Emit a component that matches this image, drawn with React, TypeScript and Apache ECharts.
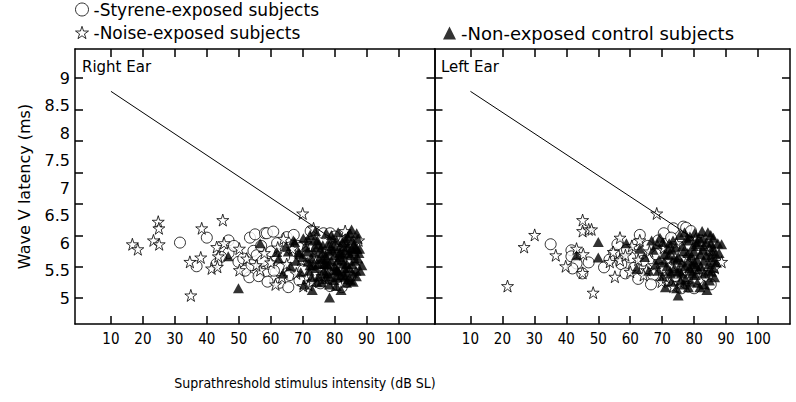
import React, { useEffect, useRef } from 'react';
import * as echarts from 'echarts';

// ---------- tick labels / tick positions ----------
const X_LABEL_VALUES = [10, 20, 30, 40, 50, 60, 70, 80, 90, 100];
const Y_LABEL_VALUES = [5, 5.5, 6, 6.5, 7, 7.5, 8, 8.5, 9];
// the original figure draws 8 evenly spaced y tick marks between 5 and 9
const Y_TICK_VALUES = [5, 5.571, 6.143, 6.714, 7.286, 7.857, 8.429, 9];

// ---------- series names ----------
const STYRENE = 'Styrene-exposed subjects';
const NOISE = 'Noise-exposed subjects';
const CONTROL = 'Non-exposed control subjects';

// ---------- Right ear (dB SL, ms) ----------
const RIGHT_STYRENE = [
  [31.6, 6.01], [40.0, 6.10], [46.8, 6.05], [36.8, 5.58], [46.8, 5.82], [49.9, 5.66], [53.3, 5.38],
  [53.5, 6.10], [55.1, 6.16], [58.2, 6.18], [54.6, 5.86], [55.6, 5.78], [58.2, 5.48], [51.4, 5.72],
  [58.8, 6.18], [60.8, 6.21], [65.0, 6.11], [61.4, 5.33], [78.6, 5.22], [80.7, 5.25], [84.9, 5.39],
  [75.5, 5.27], [70.2, 5.51], [76.5, 6.18], [78.6, 6.18], [57.0, 5.95], [59.5, 5.62], [60.2, 5.85],
  [62.0, 6.00], [63.3, 5.55], [64.2, 5.75], [66.0, 5.42], [67.2, 6.15], [68.5, 5.95], [56.2, 5.40],
  [59.0, 5.30], [62.8, 5.28], [65.5, 5.20], [69.0, 5.32], [71.5, 5.78], [73.2, 5.42], [74.5, 5.88],
  [77.2, 5.52], [79.5, 5.40], [82.2, 5.20], [83.8, 5.30], [86.2, 5.55], [72.5, 6.22], [80.0, 6.12],
  [57.5, 5.68], [61.0, 5.50], [52.0, 5.50], [54.0, 5.60], [48.5, 5.95], [44.5, 5.75], [43.0, 5.62],
];
const RIGHT_NOISE = [
  [16.7, 5.98], [18.4, 5.89], [24.8, 6.39], [25.0, 6.27], [23.3, 6.05], [25.1, 5.98], [38.4, 6.27],
  [45.0, 6.42], [34.7, 5.66], [38.1, 5.74], [35.0, 5.05], [41.5, 5.54], [43.3, 5.57], [43.1, 5.93],
  [43.6, 5.76], [45.4, 6.00], [50.2, 5.90], [50.2, 5.51], [52.5, 5.72], [56.7, 5.51], [70.0, 6.54],
  [73.4, 6.27], [83.3, 6.22], [70.2, 5.22], [71.8, 5.24], [58.0, 5.82], [60.0, 5.65], [62.2, 5.92],
  [63.5, 5.38], [65.0, 5.62], [66.8, 5.90], [68.0, 5.45], [69.5, 5.70], [71.0, 6.00], [74.0, 5.65],
  [76.0, 5.40], [78.0, 5.90], [80.5, 5.60], [82.8, 5.95], [84.5, 5.70], [86.2, 5.80], [87.5, 6.05],
  [55.5, 5.60], [61.5, 5.25], [73.0, 5.30], [64.0, 6.08],
];
const RIGHT_CONTROL = [
  [46.7, 5.76], [49.9, 5.18], [56.7, 6.00], [70.2, 6.09], [88.5, 5.60], [78.4, 5.01], [86.4, 5.93],
  [83.3, 5.39], [61.9, 5.84], [67.1, 6.05], [68.7, 5.84], [72.3, 5.60], [73.9, 5.93], [76.5, 5.63],
  [81.7, 5.84], [83.3, 6.09], [85.4, 6.05], [85.4, 5.90], [87.0, 5.90], [80.7, 5.51], [77.0, 5.45],
  [62.5, 5.72], [64.8, 5.95], [66.2, 5.58], [67.5, 6.02], [68.9, 5.81], [69.4, 5.47], [71.0, 5.92],
  [71.6, 5.66], [72.3, 6.15], [72.8, 5.38], [73.5, 5.83], [74.1, 5.55], [74.6, 6.05], [75.2, 5.71],
  [75.8, 5.29], [76.3, 5.96], [76.9, 5.62], [77.4, 6.18], [77.8, 5.45], [78.3, 5.85], [78.9, 5.68],
  [79.4, 6.08], [79.8, 5.33], [80.2, 5.91], [80.7, 5.52], [81.1, 6.20], [81.5, 5.75], [81.9, 5.41],
  [82.4, 6.02], [82.8, 5.63], [83.2, 5.87], [83.7, 5.28], [84.1, 6.12], [84.5, 5.55], [84.9, 5.78],
  [85.3, 6.25], [85.6, 5.46], [86.0, 5.97], [86.5, 5.68], [87.1, 6.08], [87.6, 5.82], [74.0, 6.22],
  [70.5, 5.25], [73.0, 5.15], [77.0, 5.35], [80.5, 5.22], [82.0, 5.15], [85.0, 5.32], [79.0, 5.95],
  [76.0, 5.82], [81.0, 5.68], [83.5, 5.50], [86.8, 5.40], [72.0, 5.50], [68.0, 5.68], [65.5, 5.85],
  [63.8, 5.45], [78.0, 5.60], [80.0, 5.78], [75.0, 5.98], [77.5, 5.72], [84.0, 5.92], [82.5, 5.80],
  [87.8, 5.90], [88.0, 5.50], [71.5, 5.85], [72.8, 5.72], [73.8, 6.08], [74.8, 5.62], [75.6, 5.90],
  [76.6, 5.50], [77.2, 5.78], [78.0, 6.00], [78.6, 5.40], [79.2, 5.88], [79.9, 5.58], [80.6, 6.05],
  [81.2, 5.48], [81.8, 5.95], [82.3, 5.70], [83.0, 5.55], [83.6, 6.00], [84.2, 5.35], [84.8, 6.18],
  [85.4, 5.62], [86.1, 5.85], [86.7, 5.50], [87.3, 5.72], [75.0, 5.40], [77.6, 5.62], [80.0, 5.50],
  [82.8, 5.42], [85.8, 5.30], [73.2, 5.60], [76.2, 5.72], [79.0, 6.15], [81.6, 5.82], [84.4, 5.82],
  [86.9, 6.18], [71.8, 6.05], [70.0, 5.75], [74.4, 5.30], [78.4, 5.25], [83.8, 5.62], [80.8, 5.38],
];
const RIGHT_FIT = [[10, 8.76], [80, 6.05]];

// ---------- Left ear (dB SL, ms) ----------
const LEFT_STYRENE = [
  [35.1, 5.98], [41.6, 5.87], [41.6, 5.76], [43.2, 5.63], [41.9, 5.54], [63.0, 6.15], [51.8, 5.56],
  [60.0, 5.74], [68.8, 6.05], [73.5, 6.27], [76.6, 6.30], [78.2, 5.21], [82.9, 5.27], [67.2, 5.42],
  [55.0, 5.82], [57.2, 5.62], [58.5, 5.45], [61.2, 5.55], [62.5, 5.35], [64.0, 5.68], [65.5, 5.95],
  [66.5, 5.25], [68.0, 5.80], [69.8, 5.55], [70.5, 6.18], [71.8, 5.32], [72.8, 6.10], [74.0, 5.40],
  [75.2, 5.60], [76.0, 5.18], [77.5, 6.28], [78.8, 5.95], [80.0, 5.18], [81.2, 5.35], [82.0, 6.05],
  [84.0, 5.40], [85.2, 5.25], [79.0, 6.22], [53.5, 5.70], [56.0, 5.98], [59.0, 5.88], [62.0, 5.98],
  [45.0, 5.45], [47.0, 5.65],
];
const LEFT_NOISE = [
  [45.1, 6.42], [45.1, 6.22], [47.0, 6.25], [30.1, 6.15], [26.8, 5.93], [36.7, 5.78], [39.8, 5.58],
  [43.2, 5.90], [45.3, 5.80], [45.1, 5.46], [21.6, 5.22], [48.4, 5.10], [68.3, 6.54], [47.9, 6.25],
  [88.6, 5.66], [56.8, 6.10], [55.2, 5.39], [54.7, 5.84], [56.8, 5.69], [53.6, 5.66], [73.5, 5.21],
  [69.8, 5.30], [65.1, 5.51], [58.5, 5.78], [60.5, 5.95], [62.5, 5.70], [64.2, 5.42], [66.0, 5.85],
  [67.5, 5.60], [70.5, 5.92], [72.0, 5.70], [74.5, 6.00], [76.5, 5.50], [78.0, 5.75], [80.5, 6.08],
  [82.5, 5.48], [84.8, 5.88], [86.5, 5.55], [71.2, 5.38], [75.8, 5.28], [60.0, 5.48], [63.0, 6.05],
];
const LEFT_CONTROL = [
  [43.2, 5.78], [50.0, 6.02], [50.0, 5.74], [62.0, 5.54], [75.0, 5.05], [88.6, 5.98], [85.2, 6.15],
  [80.2, 6.19], [66.7, 6.05], [58.8, 6.00], [63.0, 5.90], [64.5, 5.75], [65.8, 5.50], [67.2, 5.88],
  [68.0, 5.62], [69.3, 6.10], [70.1, 5.40], [70.8, 5.80], [71.5, 5.58], [72.2, 6.00], [72.9, 5.30],
  [73.6, 5.72], [74.2, 5.92], [74.8, 5.48], [75.5, 6.15], [76.1, 5.65], [76.7, 5.85], [77.3, 5.35],
  [77.9, 6.05], [78.5, 5.55], [79.1, 5.78], [79.7, 5.95], [80.3, 5.42], [80.9, 5.70], [81.5, 6.10],
  [82.1, 5.58], [82.7, 5.88], [83.3, 5.25], [83.9, 6.02], [84.5, 5.50], [85.1, 5.75], [85.8, 5.92],
  [86.4, 5.38], [87.0, 5.65], [71.0, 5.20], [74.5, 5.18], [78.2, 5.20], [81.0, 5.28], [84.0, 5.15],
  [76.0, 5.45], [79.5, 5.62], [73.0, 5.88], [69.0, 5.70], [77.0, 6.20], [82.5, 6.22], [75.0, 5.75],
  [80.0, 5.85], [83.0, 5.68], [86.0, 6.10], [68.5, 5.98], [72.5, 5.50], [78.8, 5.30], [85.5, 5.48],
  [87.8, 5.82], [70.5, 5.65], [71.8, 5.90], [72.6, 5.45], [73.4, 6.05], [74.6, 5.70], [75.4, 5.50],
  [76.4, 5.95], [77.2, 5.58], [78.0, 5.82], [78.7, 6.12], [79.4, 5.45], [80.1, 5.65], [80.7, 5.98],
  [81.4, 5.52], [82.0, 5.80], [82.6, 6.08], [83.2, 5.45], [83.8, 5.78], [84.6, 5.62], [85.3, 6.00],
  [86.0, 5.55], [86.7, 5.80], [87.4, 6.00], [75.8, 5.32], [79.0, 5.50], [81.8, 5.20], [84.8, 5.32],
  [73.8, 5.55], [77.8, 6.10], [81.0, 6.02], [84.3, 6.20], [86.2, 5.68], [68.8, 5.50], [70.2, 6.02],
  [76.8, 5.25], [80.6, 5.58], [83.0, 5.95], [85.6, 5.85], [72.0, 5.78], [78.4, 5.68],
];
const LEFT_FIT = [[10, 8.76], [80, 6.08]];

const STAR =
  'path://M50,2 L61.8,38.2 L99.8,38.2 L69,60.5 L80.8,96.8 L50,74.5 L19.2,96.8 L31,60.5 L0.2,38.2 L38.2,38.2 Z';

const FONT = "'DejaVu Sans', sans-serif";
const NARROW = "'Liberation Sans Narrow', 'DejaVu Sans Condensed', Roboto, sans-serif";

const openStyle = { color: '#ffffff', borderColor: '#000000', borderWidth: 1 };

function xAxis(gridIndex: number, position: string, labels: boolean, max: number) {
  return {
    type: 'value',
    gridIndex,
    position,
    min: -1.25,
    max,
    axisLine: { show: true, onZero: false, lineStyle: { color: '#000', width: 1.5 } },
    axisTick: {
      show: true,
      inside: true,
      length: 8,
      customValues: X_LABEL_VALUES,
      lineStyle: { color: '#000', width: 1.5 },
    },
    axisLabel: {
      show: labels,
      customValues: X_LABEL_VALUES,
      margin: 7,
      color: '#000',
      fontSize: 15,
      fontFamily: NARROW,
      formatter: (v: number) => String(v),
    },
    splitLine: { show: false },
  };
}

function yAxis(gridIndex: number, position: string, labels: boolean) {
  return {
    type: 'value',
    gridIndex,
    position,
    min: 4.53,
    max: 9.53,
    axisLine: { show: true, onZero: false, lineStyle: { color: '#000', width: 1.5 } },
    axisTick: {
      show: true,
      inside: true,
      length: 8,
      customValues: Y_TICK_VALUES,
      lineStyle: { color: '#000', width: 1.5 },
    },
    axisLabel: {
      show: labels,
      customValues: Y_LABEL_VALUES,
      margin: 5,
      color: '#000',
      fontSize: 16,
      fontFamily: FONT,
      formatter: (v: number) => String(v),
    },
    splitLine: { show: false },
    ...(labels
      ? {
          name: 'Wave V latency (ms)',
          nameLocation: 'middle',
          nameGap: 43,
          nameRotate: 90,
          nameTextStyle: { color: '#000', fontSize: 16, fontFamily: FONT },
        }
      : {}),
  };
}

function scatterSeries(name: string, data: number[][], axisIndex: number, kind: string) {
  const base: any = {
    type: 'scatter',
    name,
    data,
    xAxisIndex: axisIndex,
    yAxisIndex: axisIndex,
    silent: true,
  };
  if (kind === 'circle') {
    base.symbol = 'circle';
    base.symbolSize = 11;
    base.itemStyle = openStyle;
  } else if (kind === 'star') {
    base.symbol = STAR;
    base.symbolSize = 12;
    base.itemStyle = openStyle;
  } else {
    base.symbol = 'triangle';
    base.symbolSize = [11, 10];
    base.itemStyle = { color: '#000' };
  }
  return base;
}

function fitSeries(name: string, data: number[][], axisIndex: number) {
  return {
    type: 'line',
    name,
    data,
    xAxisIndex: axisIndex,
    yAxisIndex: axisIndex,
    symbol: 'none',
    silent: true,
    lineStyle: { color: '#000', width: 1 },
  };
}

function legend(left: number, top: number, name: string, icon: string, style: any, size: number) {
  return {
    left,
    top,
    padding: 0,
    itemWidth: 13,
    itemHeight: 13,
    selectedMode: false,
    formatter: '-{name}',
    textStyle: { color: '#000', fontSize: size, fontFamily: FONT },
    data: [{ name, icon, itemStyle: style }],
  };
}

export default function App() {
  const ref = useRef<HTMLDivElement>(null);

  useEffect(() => {
    document.body.style.margin = '0';
    const chart = echarts.init(ref.current as HTMLDivElement, null, { renderer: 'svg' });
    const option: any = {
      animation: false,
      backgroundColor: '#ffffff',
      textStyle: { fontFamily: FONT },
      legend: [
        legend(75, 1, STYRENE, 'circle', openStyle, 17),
        legend(75, 24, NOISE, STAR, openStyle, 17),
        legend(443, 24, CONTROL, 'triangle', { color: '#000' }, 18),
      ],
      grid: [
        { left: 75, top: 49, width: 359.5, height: 275 },
        { left: 434.5, top: 49, width: 355.5, height: 275 },
      ],
      xAxis: [
        xAxis(0, 'bottom', true, 111.25),
        xAxis(0, 'top', false, 111.25),
        xAxis(1, 'bottom', true, 110),
        xAxis(1, 'top', false, 110),
      ],
      yAxis: [
        yAxis(0, 'left', true),
        yAxis(0, 'right', false),
        yAxis(1, 'left', false),
        yAxis(1, 'right', false),
      ],
      series: [
        fitSeries('Right ear fit', RIGHT_FIT, 0),
        scatterSeries(STYRENE, RIGHT_STYRENE, 0, 'circle'),
        scatterSeries(NOISE, RIGHT_NOISE, 0, 'star'),
        scatterSeries(CONTROL, RIGHT_CONTROL, 0, 'triangle'),
        fitSeries('Left ear fit', LEFT_FIT, 2),
        scatterSeries(STYRENE, LEFT_STYRENE, 2, 'circle'),
        scatterSeries(NOISE, LEFT_NOISE, 2, 'star'),
        scatterSeries(CONTROL, LEFT_CONTROL, 2, 'triangle'),
      ],
      graphic: [
        {
          type: 'text',
          x: 82,
          y: 59,
          style: { text: 'Right Ear', fontSize: 15, fontFamily: FONT, fill: '#000' },
        },
        {
          type: 'text',
          x: 441,
          y: 59,
          style: { text: 'Left Ear', fontSize: 15, fontFamily: FONT, fill: '#000' },
        },
        {
          type: 'text',
          x: 305,
          y: 383,
          style: {
            text: 'Suprathreshold stimulus intensity (dB SL)',
            fontSize: 14,
            fontFamily: NARROW,
            fill: '#000',
            align: 'center',
            verticalAlign: 'middle',
          },
        },
      ],
    };
    chart.setOption(option);
    return () => chart.dispose();
  }, []);

  return <div ref={ref} style={{ width: 796, height: 402 }} />;
}
